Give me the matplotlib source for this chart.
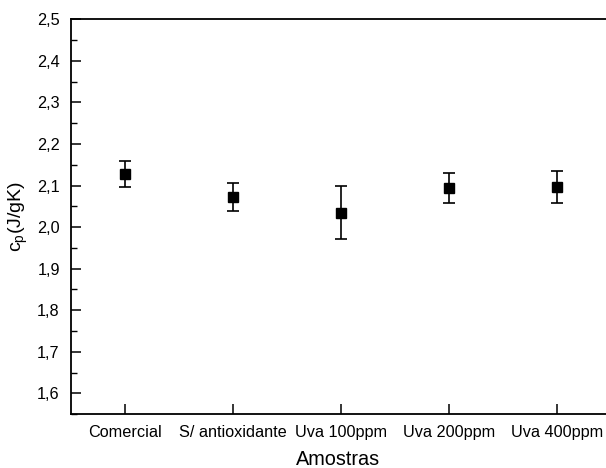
import matplotlib
matplotlib.use("Agg")
import matplotlib.pyplot as plt
from matplotlib.ticker import MultipleLocator, FuncFormatter

# Values
amostras = ["Comercial", "S/ antioxidante", "Uva 100ppm", "Uva 200ppm", "Uva 400ppm"]
cp_mean = [2.127, 2.072, 2.035, 2.094, 2.097]
cp_err = [0.031, 0.033, 0.063, 0.035, 0.039]

plt.rcParams["font.family"] = ["Liberation Sans", "DejaVu Sans"]

fig = plt.figure(figsize=(6.06, 4.68), dpi=100)
ax = fig.add_axes([0.117, 0.115, 0.883, 0.844])

x = list(range(1, len(amostras) + 1))
ax.errorbar(x, cp_mean, yerr=cp_err, fmt="s", color="black", markersize=6.5,
            ecolor="black", elinewidth=1.2, capsize=4.5, capthick=1.2)

ax.set_xlim(0.5, 5.45)
ax.set_ylim(1.55, 2.5)
ax.set_xticks(x)
ax.set_xticklabels(amostras)
ax.yaxis.set_major_locator(MultipleLocator(0.1))
ax.yaxis.set_minor_locator(MultipleLocator(0.05))
ax.yaxis.set_major_formatter(FuncFormatter(lambda v, p: f"{v:.1f}".replace(".", ",")))

ax.spines["right"].set_visible(False)
for s in ["left", "bottom", "top"]:
    ax.spines[s].set_linewidth(1.3)
ax.tick_params(axis="both", which="major", direction="in", length=7, width=1.1,
               labelsize=11.7, top=False, right=False)
ax.tick_params(axis="y", which="minor", direction="in", length=4, width=1.0)
ax.tick_params(axis="y", which="major", pad=8)
ax.tick_params(axis="x", which="major", pad=8)

ax.set_xlabel("Amostras", fontsize=14.3, labelpad=7)
ax.set_ylabel(r"c$_\mathregular{p}$(J/gK)", fontsize=14, labelpad=5)

fig.savefig("out.png", dpi=100)
plt.close(fig)
